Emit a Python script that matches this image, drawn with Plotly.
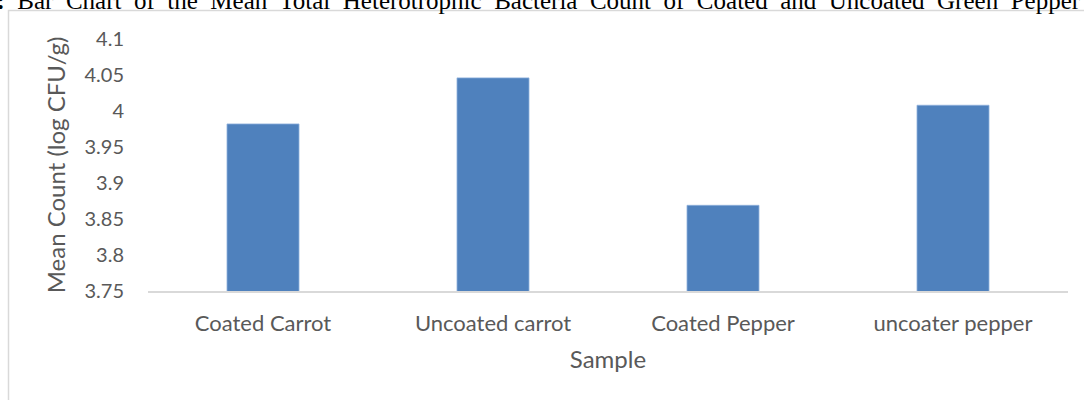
import plotly.graph_objects as go

categories = ["Coated Carrot", "Uncoated carrot", "Coated Pepper", "uncoater pepper"]
mean_counts = [3.982, 4.046, 3.869, 4.008]
y_ticks = [3.75, 3.8, 3.85, 3.9, 3.95, 4.0, 4.05, 4.1]
y_tick_labels = ["3.75", "3.8", "3.85", "3.9", "3.95", "4", "4.05", "4.1"]

title_words = ["<b>3:</b>", "Bar", "Chart", "of", "the", "Mean", "Total", "Heterotrophic",
               "Bacteria", "Count", "of", "Coated", "and", "Uncoated", "Green", "Pepper",
               "and", "Carrot"]
# justified caption: wider word spacing
title_text = "\u00a0 ".join(title_words)

fig = go.Figure()
fig.add_trace(go.Bar(
    x=categories, y=mean_counts,
    marker=dict(color="#4f81bd", line=dict(color="#8eb0dc", width=0.8)),
    width=0.313,
))

font_family = "Lato, Noto Sans, sans-serif"
txt = "#595959"

fig.update_layout(
    width=1084, height=400,
    margin=dict(l=148, r=16, t=39, b=109),
    paper_bgcolor="white", plot_bgcolor="white",
    showlegend=False,
    font=dict(family=font_family, color=txt, size=18),
    xaxis=dict(
        showgrid=False, showline=True, linecolor="#d9d9d9", linewidth=1.5,
        ticks="", tickfont=dict(size=22, color=txt), ticklabelstandoff=12,
        title=dict(text="Sample", font=dict(size=24, color=txt), standoff=16),
    ),
    yaxis=dict(
        range=[3.75, 4.1], showgrid=False, zeroline=False, showline=False,
        tickvals=y_ticks, ticktext=y_tick_labels, ticks="",
        tickfont=dict(size=20, color=txt), ticklabelstandoff=23,
        title=dict(text="Mean Count (log CFU/g)", font=dict(size=24, color=txt), standoff=12),
    ),
    shapes=[dict(
        type="rect", xref="paper", yref="paper",
        x0=(8.5 - 148) / 920, x1=1.2, y0=-1.0, y1=(291 - 10.5) / 252,
        line=dict(color="#d9d9d9", width=1.5), layer="below", fillcolor="rgba(0,0,0,0)",
    )],
    annotations=[dict(
        text=title_text, xref="paper", yref="paper",
        x=(-18 - 148) / 920, y=1, xanchor="left", yanchor="bottom", yshift=23,
        showarrow=False, align="left",
        font=dict(family="Liberation Serif, Times New Roman, serif", size=25, color="black"),
    )],
)

fig.write_html("out.html", config={"displayModeBar": False},
               post_script="document.body.style.margin='0px';")
